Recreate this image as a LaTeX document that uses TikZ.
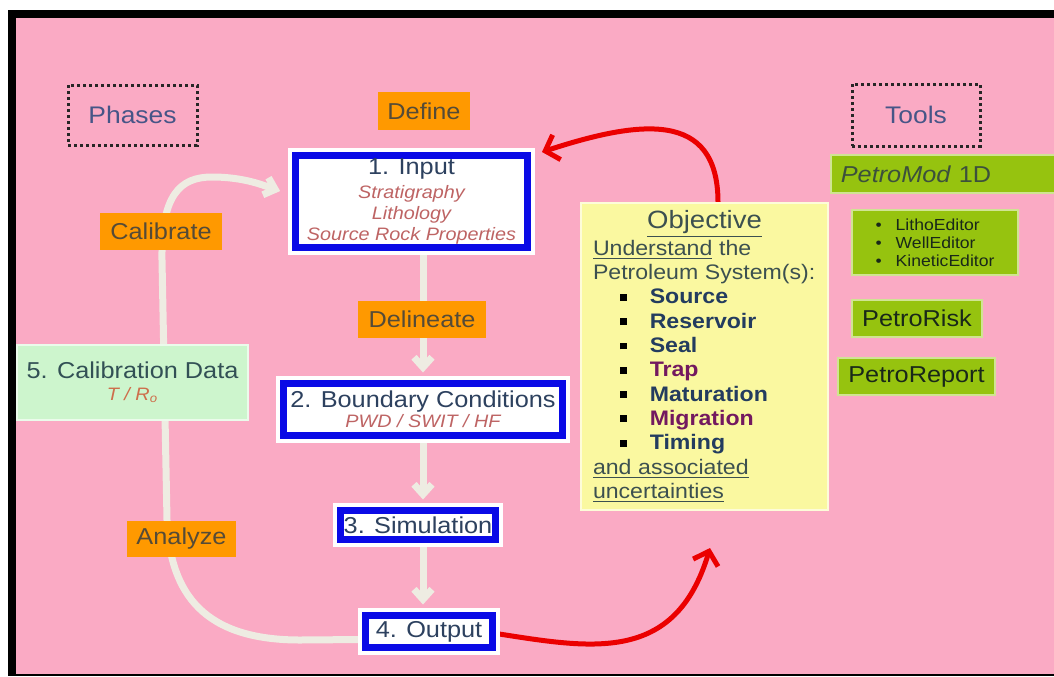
\documentclass[tikz,border=0pt]{standalone}
\usepackage{fontspec}
\setmainfont{Liberation Sans}[FakeStretch=1.1]
\usetikzlibrary{arrows.meta,backgrounds}

\definecolor{bgpink}{RGB}{250,170,196}
\definecolor{boxblue}{RGB}{10,10,230}
\definecolor{titlegrey}{RGB}{45,65,95}
\definecolor{subred}{RGB}{190,100,100}
\definecolor{tagorange}{RGB}{255,153,0}
\definecolor{tagtext}{RGB}{85,75,55}
\definecolor{phasetext}{RGB}{70,85,135}
\definecolor{toolgreen}{RGB}{150,195,15}
\definecolor{tooltext}{RGB}{25,40,25}
\definecolor{calgreen}{RGB}{205,245,205}
\definecolor{caltext}{RGB}{50,80,85}
\definecolor{calsub}{RGB}{205,110,75}
\definecolor{objyellow}{RGB}{250,248,160}
\definecolor{objtext}{RGB}{60,80,80}
\definecolor{itemblue}{RGB}{35,60,95}
\definecolor{itempurple}{RGB}{115,25,95}
\definecolor{loopwhite}{RGB}{238,236,226}
\definecolor{arrowred}{RGB}{235,0,0}

\newcommand\stagefont{\fontsize{11.5}{13}\selectfont}
\newcommand\stagesub{\fontsize{9}{10.5}\selectfont\itshape\color{subred}}
\newcommand\objitem[2]{\hspace*{13.5pt}{\color{black}\rule[1.6pt]{3.4pt}{3.4pt}}\hspace{11.5pt}{\bfseries\color{#1}#2}\par}

\begin{document}
\begin{tikzpicture}[x=0.5pt, y=-0.5pt,
	stagebox/.style={draw=boxblue, line width=3.5pt, fill=white,
		preaction={draw=white, line width=7.5pt}, inner sep=1pt,
		align=center, text=titlegrey, font=\stagefont},
	tagbox/.style={fill=tagorange, text=tagtext, font=\stagefont,
		inner sep=0pt, minimum height=18.5pt},
	dotbox/.style={draw=black!85, line width=1.5pt, dash pattern=on 1.5pt off 1.5pt,
		text=phasetext, font=\fontsize{12}{14}\selectfont},
	toolbox/.style={fill=toolgreen, draw=white!55!toolgreen, line width=0.8pt,
		text=tooltext, font=\stagefont, inner sep=0pt, minimum height=18.5pt},
	loopline/.style={draw=loopwhite, line width=3.5pt,
		-{Straight Barb[length=5pt,width=9pt]}},
	redline/.style={draw=arrowred, line width=2.5pt,
		-{Straight Barb[length=6pt,width=13pt]}}]
	
	% 1. 背景与边框
	\useasboundingbox (0,0) rectangle (1054,676);
	\begin{pgfonlayer}{background}
		\fill[white] (0,0) rectangle (1054,676);
		\fill[black] (8,9.5) rectangle (1054,676);
		\fill[bgpink] (16,17.5) rectangle (1054,673.5);
	\end{pgfonlayer}
	
	% 2. 流程框
	\node[stagebox, minimum width=116pt, minimum height=46pt, text=subred, font=\stagesub] (input) at (411.5,201.5)
		{{\stagefont\upshape\color{titlegrey}1. Input}\\[1.5pt] Stratigraphy\\ Lithology\\ Source Rock Properties};
	\node[stagebox, minimum width=139.5pt, minimum height=26pt, font=\fontsize{9}{10}\selectfont] (boundary) at (423,409.5)
		{{\stagefont\color{titlegrey}2. Boundary Conditions}\\ {\stagesub PWD / SWIT / HF}};
	\node[stagebox, minimum width=77.5pt, minimum height=14.5pt] (simulation) at (418,525) {3. Simulation};
	\node[stagebox, minimum width=63.5pt, minimum height=16pt] (output) at (429,631.5) {4. Output};
	\node[fill=calgreen, draw=white!60!calgreen, line width=0.8pt, minimum width=115.5pt, minimum height=37.5pt,
		align=center, text=caltext, font=\fontsize{9}{11}\selectfont] (caldata) at (132.5,382.5)
		{{\stagefont 5. Calibration Data}\\ {\itshape\color{calsub}T / R\textsubscript{o}}};
	
	% 3. 阶段标签
	\node[tagbox, minimum width=46pt, minimum height=19pt] (define) at (424,111) {Define};
	\node[tagbox, minimum width=64pt] (delineate) at (422,319.5) {Delineate};
	\node[tagbox, minimum width=61pt] (calibrate) at (161,231.5) {Calibrate};
	\node[tagbox, minimum width=54.5pt, minimum height=18pt] (analyze) at (181.5,539) {Analyze};
	\node[dotbox, minimum width=64.5pt, minimum height=30pt] (phases) at (132.5,115) {Phases};
	\node[dotbox, minimum width=64pt, minimum height=31pt] (tools) at (916,115) {Tools};
	
	% 4. 目标框
	\node[fill=objyellow, draw=white!60!objyellow, line width=0.8pt, minimum width=123.5pt, minimum height=153.5pt,
		text width=111.5pt, inner xsep=6pt, align=left, text=objtext] (objective) at (704.5,356.5)
		{\parindent=0pt
		{\centering\fontsize{12.5}{14}\selectfont\underline{Objective}\par}
		\fontsize{10.5}{12.15}\selectfont
		\underline{Understand} the\par
		Petroleum System(s):\par
		\objitem{itemblue}{Source}
		\objitem{itemblue}{Reservoir}
		\objitem{itemblue}{Seal}
		\objitem{itempurple}{Trap}
		\objitem{itemblue}{Maturation}
		\objitem{itempurple}{Migration}
		\objitem{itemblue}{Timing}
		\underline{and associated}\par
		\underline{uncertainties}};
	
	% 5. 工具
	\node[toolbox, anchor=west, text width=110pt, inner xsep=5pt, align=left, text={rgb,255:red,60;green,80;blue,60},
		minimum height=19pt] (petromod) at (830,174) {\textit{PetroMod} 1D};
	\node[toolbox, minimum width=83pt, minimum height=32.5pt, align=left, font=\fontsize{8}{9}\selectfont] (editors) at (935,242.5)
		{\textbullet\hspace{7pt}LithoEditor\\ \textbullet\hspace{7pt}WellEditor\\ \textbullet\hspace{7pt}KineticEditor};
	\node[toolbox, minimum width=65pt] (petrorisk) at (917,318.5) {PetroRisk};
	\node[toolbox, minimum width=78.5pt] (petroreport) at (916.5,376.5) {PetroReport};
	
	% 6. 连线（放在背景层，压在框下面）
	\coordinate (definetip) at (542,152);
	\coordinate (objtip) at (710,548);
	\begin{pgfonlayer}{background}
		\draw[loopline, shorten >=3.75pt] (input.south -| boundary.north) -- (boundary.north);
		\draw[loopline, shorten >=3.75pt] (boundary.south) -- (simulation.north -| boundary.south);
		\draw[loopline, shorten >=3.75pt] (simulation.south -| boundary.south) -- (output.north -| boundary.south);
		\draw[loopline, shorten >=6.25pt] ([yshift=-4pt]output.west) -- (300,640)
			.. controls (205,640) and (170,595) .. (167,520) -- (162,260)
			.. controls (161,195) and (180,177) .. (212,177)
			.. controls (245,177) and (265,186) .. ([yshift=3.25pt]input.west);
		\draw[redline] ([xshift=6.75pt]objective.north) .. controls (718,110) and (640,120) .. (definetip);
		\draw[redline] ([yshift=-1pt]output.east) .. controls (590,648) and (675,665) .. (objtip);
	\end{pgfonlayer}
\end{tikzpicture}
\end{document}
